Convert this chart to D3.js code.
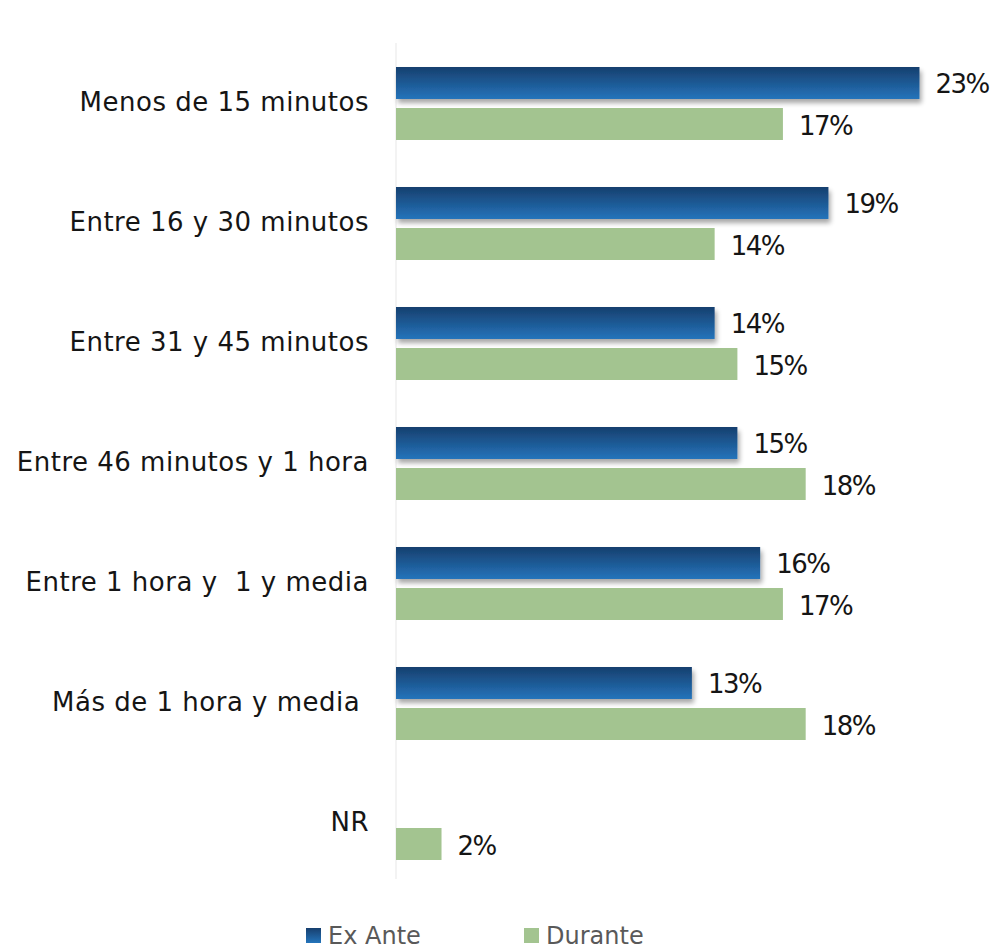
<!DOCTYPE html>
<html>
<head>
<meta charset="utf-8">
<script src="https://cdn.jsdelivr.net/npm/d3@7"></script>
<style>
  html, body { margin: 0; padding: 0; background: #fff; }
  svg text { white-space: pre; }
</style>
</head>
<body>
<svg id="chart" width="997" height="950"></svg>
<script>
// Tiempo de traslado: distribución antes y durante
const categories = [
  "Menos de 15 minutos",
  "Entre 16 y 30 minutos",
  "Entre 31 y 45 minutos",
  "Entre 46 minutos y 1 hora",
  "Entre 1 hora y  1 y media",
  "Más de 1 hora y media ",
  "NR"
];
const exAnte  = [23, 19, 14, 15, 16, 13, null];
const durante = [17, 14, 15, 18, 17, 18, 2];
const seriesNames = ["Ex Ante", "Durante"];

const FONT = "'DejaVu Sans', sans-serif";
const svg = d3.select("#chart");
const margin = { left: 396, top: 43 };
const plotH = 840;

const defs = svg.append("defs");
const grad = defs.append("linearGradient")
  .attr("id", "blueGrad").attr("x1", 0).attr("y1", 0).attr("x2", 0).attr("y2", 1);
grad.append("stop").attr("offset", "0%").attr("stop-color", "#173f6e");
grad.append("stop").attr("offset", "100%").attr("stop-color", "#2474bb");

const shadow = defs.append("filter").attr("id", "barShadow")
  .attr("x", "-5%").attr("y", "-20%").attr("width", "115%").attr("height", "160%");
shadow.append("feGaussianBlur").attr("in", "SourceAlpha").attr("stdDeviation", 2.5);
shadow.append("feOffset").attr("dx", 2).attr("dy", 4).attr("result", "off");
shadow.append("feComponentTransfer").append("feFuncA").attr("type", "linear").attr("slope", 0.35);
const merge = shadow.append("feMerge");
merge.append("feMergeNode");
merge.append("feMergeNode").attr("in", "SourceGraphic");

const x = d3.scaleLinear().domain([0, 25]).range([0, 569]);
const y = d3.scaleBand().domain(categories).range([0, plotH]).paddingInner(0).paddingOuter(0);
const sub = d3.scaleBand().domain(seriesNames).range([24, 97]).paddingInner(0.22);

const g = svg.append("g").attr("transform", `translate(${margin.left},${margin.top})`);

// vertical category axis line
g.append("line")
  .attr("x1", 0).attr("x2", 0).attr("y1", 0).attr("y2", plotH - 4)
  .attr("stroke", "#efefef").attr("stroke-width", 1.5);

// category labels
g.selectAll("text.cat").data(categories).join("text")
  .attr("class", "cat")
  .attr("x", -27)
  .attr("y", d => y(d) + 60)
  .attr("text-anchor", "end")
  .attr("dominant-baseline", "middle")
  .attr("font-family", FONT)
  .attr("font-size", 26)
  .attr("letter-spacing", 0.5)
  .attr("fill", "#151515")
  .text(d => d);

const rows = categories.map((c, i) => ({ c, vals: [exAnte[i], durante[i]] }));

const groups = g.selectAll("g.row").data(rows).join("g")
  .attr("class", "row")
  .attr("transform", d => `translate(0,${y(d.c)})`);

const cells = groups.selectAll("g.cell")
  .data(d => d.vals.map((v, j) => ({ v, s: seriesNames[j] })).filter(e => e.v != null))
  .join("g").attr("class", "cell");

cells.append("rect")
  .attr("x", 0)
  .attr("y", d => sub(d.s))
  .attr("width", d => x(d.v))
  .attr("height", sub.bandwidth())
  .attr("fill", d => d.s === "Ex Ante" ? "url(#blueGrad)" : "#a3c490")
  .attr("filter", d => d.s === "Ex Ante" ? "url(#barShadow)" : null);

cells.append("text")
  .attr("x", d => x(d.v) + 16)
  .attr("y", d => sub(d.s) + sub.bandwidth() / 2 + 3)
  .attr("dominant-baseline", "middle")
  .attr("font-family", FONT)
  .attr("font-size", 26)
  .attr("letter-spacing", -1.5)
  .attr("fill", "#151515")
  .text(d => d.v + "%");

// legend
const legend = svg.append("g").attr("transform", "translate(306,928)");
const legItems = [
  { name: "Ex Ante", fill: "url(#blueGrad)", dx: 0 },
  { name: "Durante", fill: "#a3c490", dx: 218 }
];
const li = legend.selectAll("g").data(legItems).join("g")
  .attr("transform", d => `translate(${d.dx},0)`);
li.append("rect").attr("width", 15).attr("height", 15).attr("fill", d => d.fill);
li.append("text")
  .attr("x", 22).attr("y", 9)
  .attr("dominant-baseline", "middle")
  .attr("font-family", FONT)
  .attr("font-size", 24)
  .attr("fill", "#595959")
  .text(d => d.name);
</script>
</body>
</html>
